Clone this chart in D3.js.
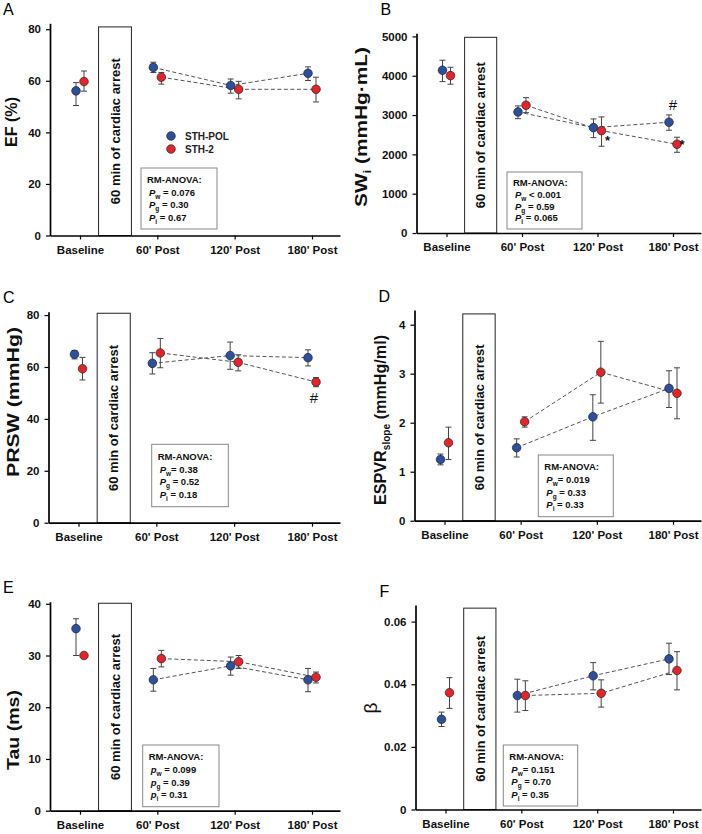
<!DOCTYPE html>
<html>
<head>
<meta charset="utf-8">
<script src="https://cdn.jsdelivr.net/npm/d3@7"></script>
<style>
    body { margin: 0; background: #fff; }
    svg text { font-family: Arial, "Liberation Sans", sans-serif; }
</style>
</head>
<body>
<svg id="chart" width="702" height="834"></svg>
<script>
    'use strict';

    var categories = ["Baseline", "60' Post", "120' Post", "180' Post"];
    var seriesNames = ["STH-POL", "STH-2"];

    // A - EF (%)
    var efTicks = [0, 20, 40, 60, 80];
    var efPol = [56.1, 65.2, 58.2, 62.9];
    var efPolErr = [[50.4, 59.3], [63.2, 67.2], [55.2, 60.7], [60.1, 65.4]];
    var efSth = [59.7, 61.4, 56.7, 56.7];
    var efSthErr = [[56.0, 63.8], [58.7, 63.2], [53.0, 59.8], [51.8, 61.4]];

    // B - SWi
    var swTicks = [0, 1000, 2000, 3000, 4000, 5000];
    var swPol = [4140, 3079, 2680, 2817];
    var swPolErr = [[3850, 4394], [2908, 3232], [2425, 2901], [2613, 3003]];
    var swSth = [4003, 3249, 2603, 2257];
    var swSthErr = [[3784, 4216], [3061, 3443], [2206, 2952], [2053, 2435]];

    // C - PRSW
    var prswTicks = [0, 20, 40, 60, 80];
    var prswPol = [64.9, 61.4, 64.4, 63.6];
    var prswPolErr = [[63.1, 66.3], [57.3, 65.5], [59.1, 69.6], [60.4, 66.6]];
    var prswSth = [59.3, 65.4, 61.8, 54.2];
    var prswSthErr = [[55.0, 63.7], [59.7, 71.0], [58.5, 64.7], [52.4, 55.9]];

    // D - ESPVR slope
    var espvrTicks = [0, 1, 2, 3, 4];
    var espvrPol = [1.25, 1.49, 2.12, 2.70];
    var espvrPolErr = [[1.14, 1.36], [1.30, 1.67], [1.64, 2.57], [2.31, 3.06]];
    var espvrSth = [1.59, 2.02, 3.03, 2.60];
    var espvrSthErr = [[1.25, 1.91], [1.91, 2.12], [2.40, 3.66], [2.08, 3.12]];

    // E - Tau
    var tauTicks = [0, 10, 20, 30, 40];
    var tauPol = [35.2, 25.3, 28.0, 25.3];
    var tauPolErr = [[30.0, 37.1], [23.1, 27.5], [26.2, 29.7], [23.0, 27.5]];
    var tauSth = [30.0, 29.4, 28.8, 25.8];
    var tauSthErr = [[29.8, 30.2], [27.8, 31.0], [27.5, 30.0], [24.7, 26.8]];

    // F - beta
    var betaTicks = [0, 0.02, 0.04, 0.06];
    var betaPol = [0.0288, 0.0364, 0.0427, 0.0481];
    var betaPolErr = [[0.0265, 0.0311], [0.0311, 0.0416], [0.0382, 0.0469], [0.0431, 0.0531]];
    var betaSth = [0.0373, 0.0364, 0.0371, 0.0444];
    var betaSthErr = [[0.0323, 0.0421], [0.0316, 0.0411], [0.0327, 0.0414], [0.0382, 0.0504]];

    var palette = ['#2d4fa0', '#e3242b'];
    var dodge = [-4, 4];

    var svg = d3.select("#chart");

    var panels = [
        {letter: "A", label: ["EF (%)"], labelLen: 50, lx: 17, ly: 122,
            left: 50, right: 340, top: 23.3, bottom: 235.5, yMax: 82.3, boxTop: 80.9, ticks: efTicks,
            pol: efPol, polErr: efPolErr, sth: efSth, sthErr: efSthErr,
            stats: [141, 168, 76, 61], p: "P", pv: ["= 0.076", "= 0.30", "= 0.67"], legend: true},
        {letter: "B", label: ["SW", "i", " (mmHg\u00b7mL)"], labelLen: 160, lx: 367, ly: 127,
            left: 416.5, right: 701, top: 33.3, bottom: 233, yMax: 5079, boxTop: 4977, ticks: swTicks,
            pol: swPol, polErr: swPolErr, sth: swSth, sthErr: swSthErr,
            stats: [507, 172, 75, 57], p: "P", pv: ["< 0.001", "= 0.59", "= 0.065"],
            marks: [{cat: 3, value: 3255, text: "#", dx: 0, size: 15, weight: "normal"},
                {cat: 2, value: 2408, text: "*", dx: 10, size: 13, weight: "bold"},
                {cat: 3, value: 2322, text: "*", dx: 9, size: 13, weight: "bold"}]},
        {letter: "C", label: ["PRSW (mmHg)"], labelLen: 150, lx: 18.5, ly: 402,
            left: 48.5, right: 340, top: 311.7, bottom: 522.7, yMax: 81.3, boxTop: 80.7, ticks: prswTicks,
            pol: prswPol, polErr: prswPolErr, sth: prswSth, sthErr: prswSthErr,
            stats: [151.7, 444.3, 76.6, 62.4], p: "P", pv: ["= 0.38", "= 0.52", "= 0.18"], tight: true,
            marks: [{cat: 3, value: 48.3, text: "#", dx: 2, size: 15, weight: "normal"}]},
        {letter: "D", label: ["ESPVR", "slope", " (mmHg/ml)"], labelLen: 170, lx: 386, ly: 420,
            left: 414.5, right: 701, top: 310, bottom: 520.7, yMax: 4.3, boxTop: 4.22, ticks: espvrTicks,
            pol: espvrPol, polErr: espvrPolErr, sth: espvrSth, sthErr: espvrSthErr,
            stats: [538.3, 455, 75, 61.7], p: "P", pv: ["= 0.019", "= 0.33", "= 0.33"], tight: true},
        {letter: "E", label: ["Tau (ms)"], labelLen: 80, lx: 18.5, ly: 730,
            left: 50, right: 340, top: 601.7, bottom: 810.7, yMax: 40.4, boxTop: 40.1, ticks: tauTicks,
            pol: tauPol, polErr: tauPolErr, sth: tauSth, sthErr: tauSthErr,
            stats: [142.7, 745, 76.3, 61.7], p: "p", pv: ["= 0.099", "= 0.39", "= 0.31"]},
        {letter: "F", label: ["\u03b2"], labelLen: 0, lx: 377, ly: 708, greek: true,
            left: 415.5, right: 701, top: 605, bottom: 809.5, yMax: 0.0653, boxTop: 0.0643, ticks: betaTicks,
            pol: betaPol, polErr: betaPolErr, sth: betaSth, sthErr: betaSthErr,
            stats: [503.3, 745, 74.4, 61], p: "P", pv: ["= 0.151", "= 0.70", "= 0.35"], tight: true}
    ];

    function drawPanel(p) {
        var g = svg.append("g");
        var step = (p.right - p.left - 58) / 3;
        var x = d3.scaleLinear()
            .domain([-30 / step, 3 + 28 / step])
            .range([p.left, p.right]);
        var y = d3.scaleLinear()
            .domain([0, p.yMax])
            .range([p.bottom, p.top]);

        // panel letter
        g.append("text")
            .attr("x", p.letter === "A" || p.letter === "C" || p.letter === "E" ? 3 : p.left - 36)
            .attr("y", p.top - (p.letter === "A" ? 8.5 : p.letter === "B" ? 18.5 : 8.5))
            .style("font-size", "16px")
            .text(p.letter);

        // cardiac arrest box
        var bx0 = x(0.24), bx1 = x(0.665);
        g.append("rect")
            .attr("x", bx0)
            .attr("y", y(p.boxTop))
            .attr("width", bx1 - bx0)
            .attr("height", y(0) - y(p.boxTop))
            .attr("fill", "#fff")
            .attr("stroke", "#222")
            .attr("stroke-width", 1);
        var bcx = (bx0 + bx1) / 2, bcy = (y(0) + y(p.boxTop)) / 2;
        g.append("text")
            .attr("transform", "translate(" + bcx + "," + bcy + ") rotate(-90)")
            .attr("dy", "0.36em")
            .style("text-anchor", "middle")
            .style("font-size", "13px")
            .style("font-weight", "bold")
            .attr("fill", "#111")
            .text("60 min of cardiac arrest");

        // axes
        var yAxis = g.append("g")
            .attr("transform", "translate(" + p.left + ",0)")
            .call(d3.axisLeft(y).tickValues(p.ticks).tickSize(4).tickSizeOuter(0).tickPadding(5)
                .tickFormat(function (d) {
                    return p.greek ? (d === 0 ? "0" : d.toFixed(2)) : d;
                }));
        var xAxis = g.append("g")
            .attr("transform", "translate(0," + p.bottom + ")")
            .call(d3.axisBottom(x).tickValues([0, 1, 2, 3]).tickSize(4).tickSizeOuter(0).tickPadding(6)
                .tickFormat(function (i) {
                    return categories[i];
                }));
        [yAxis, xAxis].forEach(function (a) {
            a.select(".domain").attr("stroke", "#000").attr("stroke-width", 1.7);
            a.selectAll(".tick line").attr("stroke", "#000").attr("stroke-width", 1.2);
            a.selectAll(".tick text")
                .attr("fill", "#111")
                .style("font-size", "11.5px")
                .style("font-weight", "bold")
                .style("font-family", "Arial, 'Liberation Sans', sans-serif");
        });

        // y label
        var lab = g.append("text")
            .attr("transform", "translate(" + p.lx + "," + p.ly + ") rotate(-90)")
            .style("text-anchor", "middle")
            .attr("fill", "#111");
        if (p.greek) {
            lab.style("font-size", "19px").text(p.label[0]);
        } else {
            lab.style("font-size", "16px").style("font-weight", "bold")
                .attr("textLength", p.labelLen)
                .attr("lengthAdjust", "spacingAndGlyphs");
            lab.append("tspan").text(p.label[0]);
            if (p.label.length > 1) {
                lab.append("tspan").attr("dy", 4).style("font-size", "10px").text(p.label[1]);
                lab.append("tspan").attr("dy", -4).text(p.label[2]);
            }
        }

        var series = [
            {vals: p.pol, err: p.polErr},
            {vals: p.sth, err: p.sthErr}
        ];

        // error bars
        series.forEach(function (s, k) {
            var eg = g.append("g").attr("stroke", "#444").attr("stroke-width", 1);
            s.err.forEach(function (e, i) {
                var cx = x(i) + dodge[k];
                eg.append("line").attr("x1", cx).attr("x2", cx).attr("y1", y(e[0])).attr("y2", y(e[1]));
                eg.append("line").attr("x1", cx - 3).attr("x2", cx + 3).attr("y1", y(e[0])).attr("y2", y(e[0]));
                eg.append("line").attr("x1", cx - 3).attr("x2", cx + 3).attr("y1", y(e[1])).attr("y2", y(e[1]));
            });
        });

        // dashed lines over post-arrest points
        var line = d3.line()
            .x(function (d) { return d.x; })
            .y(function (d) { return d.y; });
        series.forEach(function (s, k) {
            var pts = s.vals.slice(1).map(function (v, j) {
                return {x: x(j + 1) + dodge[k], y: y(v)};
            });
            g.append("path")
                .datum(pts)
                .attr("d", line)
                .attr("fill", "none")
                .attr("stroke", "#555")
                .attr("stroke-width", 1)
                .attr("stroke-dasharray", "4,2.5");
        });

        // points
        series.forEach(function (s, k) {
            g.selectAll(null)
                .data(s.vals)
                .enter().append("circle")
                .attr("cx", function (d, i) { return x(i) + dodge[k]; })
                .attr("cy", function (d) { return y(d); })
                .attr("r", 4.3)
                .attr("fill", palette[k])
                .attr("stroke", "#222")
                .attr("stroke-width", 0.7);
        });

        // significance marks
        (p.marks || []).forEach(function (m) {
            g.append("text")
                .attr("x", x(m.cat) + m.dx)
                .attr("y", y(m.value))
                .attr("dy", m.text === "*" ? "0.55em" : "0.36em")
                .style("text-anchor", "middle")
                .style("font-size", m.size + "px")
                .style("font-weight", m.weight)
                .attr("fill", "#111")
                .text(m.text);
        });

        // RM-ANOVA box
        var sb = p.stats;
        g.append("rect")
            .attr("x", sb[0]).attr("y", sb[1]).attr("width", sb[2]).attr("height", sb[3])
            .attr("fill", "#fff").attr("stroke", "#888").attr("stroke-width", 1);
        var lh = sb[3] * 0.205;
        g.append("text")
            .attr("x", sb[0] + 6)
            .attr("y", sb[1] + sb[3] * 0.25)
            .style("font-size", "9.5px")
            .style("font-weight", "bold")
            .attr("fill", "#111")
            .text("RM-ANOVA:");
        ["w", "g", "i"].forEach(function (sub, j) {
            var t = g.append("text")
                .attr("x", sb[0] + 8)
                .attr("y", sb[1] + sb[3] * 0.25 + lh * (j + 1))
                .style("font-size", "9.5px")
                .style("font-weight", "bold")
                .attr("fill", "#111");
            t.append("tspan").style("font-style", "italic").text(p.p);
            t.append("tspan").attr("dy", 3).style("font-size", "6.5px").text(sub);
            t.append("tspan").attr("dy", -3).text((p.tight && j === 0 ? "" : " ") + p.pv[j]);
        });

        // legend
        if (p.legend) {
            seriesNames.forEach(function (name, k) {
                g.append("circle")
                    .attr("cx", 171).attr("cy", 136 + k * 13).attr("r", 4.3)
                    .attr("fill", palette[k]).attr("stroke", "#222").attr("stroke-width", 0.7);
                g.append("text")
                    .attr("x", 185).attr("y", 136 + k * 13).attr("dy", "0.36em")
                    .style("font-size", "10px").style("font-weight", "bold").attr("fill", "#222")
                    .text(name);
            });
        }
    }

    panels.forEach(drawPanel);
</script>
</body>
</html>
